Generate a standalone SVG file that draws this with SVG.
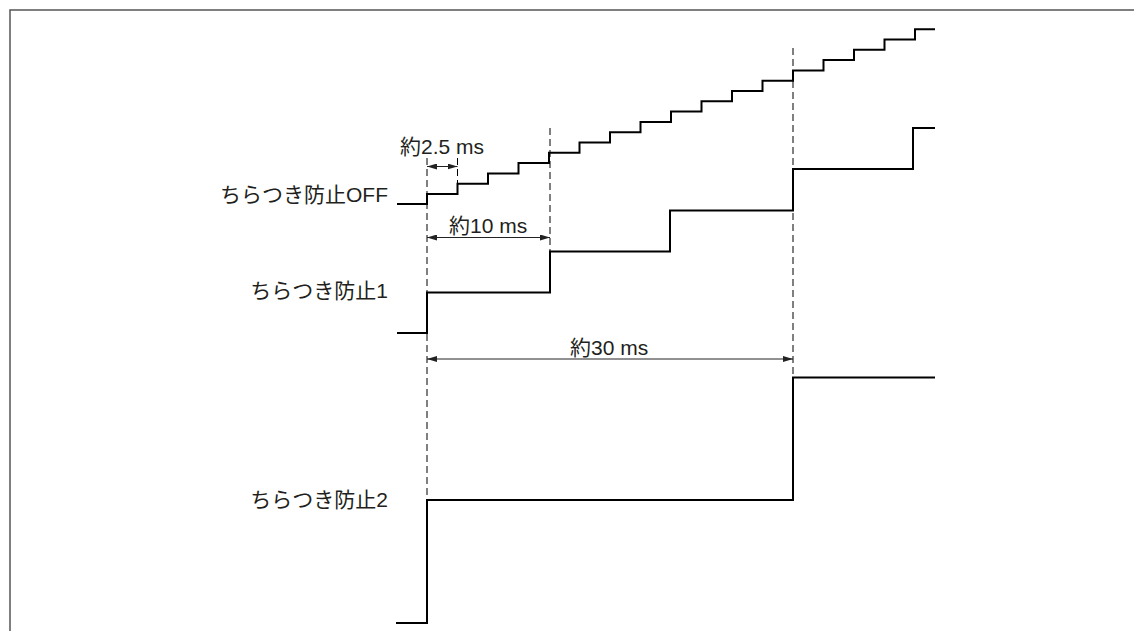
<svg xmlns="http://www.w3.org/2000/svg" width="1134" height="631" viewBox="0 0 1134 631">
<style>
.sig{fill:none;stroke:#000;stroke-width:2;stroke-linejoin:miter}
.dash{fill:none;stroke:#000;stroke-width:1;stroke-dasharray:7 4}
.dim{fill:none;stroke:#222;stroke-width:1}
.lbl{font-family:"Liberation Sans","Noto Sans CJK JP",sans-serif;font-size:21px;fill:#231f20}
</style>
<defs>
<marker id="ah" viewBox="0 0 10 6" refX="10" refY="3" markerWidth="10" markerHeight="6" markerUnits="userSpaceOnUse" orient="auto-start-reverse">
<path d="M0,0 L10,3 L0,6 Z" fill="#222"/>
</marker>
</defs>
<rect x="10" y="10" width="1140" height="640" fill="#fff" stroke="#555" stroke-width="1.5"/>
<g id="labels">
<text class="lbl" x="388" y="202" text-anchor="end">ちらつき防止OFF</text>
<text class="lbl" x="388" y="298" text-anchor="end">ちらつき防止1</text>
<text class="lbl" x="388" y="507" text-anchor="end">ちらつき防止2</text>
</g>
<g id="signal-off">
<path class="sig" d="M397,204 H427 V194 H457.5 V183.7 H488 V173.4 H518.5 V163.1 H549 V152.8 H579.5 V142.5 H610 V132.2 H640.5 V121.9 H671 V111.6 H701.5 V101.3 H732 V91 H762.5 V80.7 H793 V70.4 H823.5 V60.1 H854 V49.8 H884.5 V39.5 H915 V29.2 H935"/>
</g>
<g id="signal-1">
<path class="sig" d="M397,333 H427 V292.5 H550 V251.5 H670 V210.5 H793 V169 H913 V128 H935"/>
</g>
<g id="signal-2">
<path class="sig" d="M396,623 H427 V500 H793 V377.5 H935"/>
</g>
<g id="connectors">
<line class="dash" x1="427" y1="158" x2="427" y2="500"/>
<line class="dash" x1="457.5" y1="158" x2="457.5" y2="184"/>
<line class="dash" x1="550" y1="128" x2="550" y2="252"/>
<line class="dash" x1="793" y1="48" x2="793" y2="378"/>
<line class="dim" x1="427" y1="166.5" x2="457.5" y2="166.5" marker-start="url(#ah)" marker-end="url(#ah)"/>
<line class="dim" x1="427" y1="237.5" x2="550" y2="237.5" marker-start="url(#ah)" marker-end="url(#ah)"/>
<line class="dim" x1="427" y1="359" x2="793" y2="359" marker-start="url(#ah)" marker-end="url(#ah)"/>
</g>
<g id="dim-labels">
<text class="lbl" x="400" y="154">約2.5 ms</text>
<text class="lbl" x="449" y="233">約10 ms</text>
<text class="lbl" x="570" y="355">約30 ms</text>
</g>
</svg>
